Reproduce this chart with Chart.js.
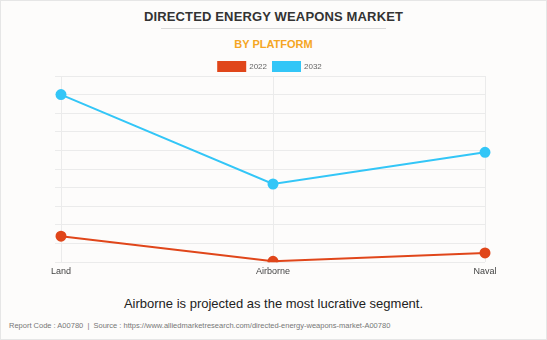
<!DOCTYPE html>
<html>
<head>
<meta charset="utf-8">
<script src="https://cdn.jsdelivr.net/npm/chart.js@4/dist/chart.umd.min.js"></script>
<style>
  html, body { margin: 0; padding: 0; }
  body { width: 547px; height: 340px; background: #fdfcfb; position: relative; overflow: hidden; font-family: "Liberation Sans", Arial, sans-serif; }
  #frame { position: absolute; left: 0; top: 0; width: 545px; height: 338px; border: 1px solid #e6e6e6; }
  #title { position: absolute; left: 0; width: 547px; top: 9px; text-align: center; font-weight: bold; font-size: 13px; color: #333; letter-spacing: 0.15px; }
  #rule { position: absolute; left: 161px; width: 225px; top: 28px; height: 1px; background: #d9d9d9; }
  #sub { position: absolute; left: 0; width: 547px; top: 38px; text-align: center; font-weight: bold; font-size: 11px; color: #f5a623; }
  #cap { position: absolute; left: 0; width: 547px; top: 296px; text-align: center; font-size: 13px; color: #222; }
  #foot { position: absolute; left: 9px; top: 321px; font-size: 7.5px; color: #777; white-space: nowrap; }
  #wrap { position: absolute; left: 0; top: 0; width: 547px; height: 290px; }
</style>
</head>
<body>
<div id="frame"></div>
<div id="title">DIRECTED ENERGY WEAPONS MARKET</div>
<div id="rule"></div>
<div id="sub">BY PLATFORM</div>
<div id="wrap"><canvas id="c" width="547" height="290"></canvas></div>
<div id="cap">Airborne is projected as the most lucrative segment.</div>
<div id="foot">Report Code : A00780 &nbsp;|&nbsp; Source : https://www.alliedmarketresearch.com/directed-energy-weapons-market-A00780</div>
<script>
const categories = ["Land", "Airborne", "Naval"];
const series2022 = [1.4, 0.05, 0.5];
const series2032 = [9.0, 4.2, 5.9];
const seriesNames = ["2022", "2032"];
const seriesColors = ["#e0461a", "#33c6f7"];

const legendGap = {
  id: "legendGap",
  beforeInit(chart) {
    const origFit = chart.legend.fit;
    chart.legend.fit = function () {
      origFit.call(this);
      this.height -= 5;
    };
  }
};

new Chart(document.getElementById("c"), {
  type: "line",
  data: {
    labels: categories,
    datasets: [
      { label: seriesNames[0], data: series2022, borderColor: seriesColors[0], backgroundColor: seriesColors[0], borderWidth: 2, pointRadius: 4.5, pointHoverRadius: 4.5, tension: 0 },
      { label: seriesNames[1], data: series2032, borderColor: seriesColors[1], backgroundColor: seriesColors[1], borderWidth: 2, pointRadius: 4.5, pointHoverRadius: 4.5, tension: 0 }
    ]
  },
  plugins: [legendGap],
  options: {
    responsive: false,
    animation: false,
    devicePixelRatio: 1,
    layout: { padding: { left: 55, right: 62, top: 56, bottom: 9 } },
    plugins: {
      tooltip: { enabled: false },
      legend: {
        display: true,
        position: "top",
        labels: { boxWidth: 27, boxHeight: 9, padding: 6, color: "#666", font: { family: "Liberation Sans, Arial", size: 8 } }
      }
    },
    scales: {
      x: {
        offset: false,
        grid: { color: "#ebebeb", drawTicks: false },
        border: { display: false },
        ticks: { color: "#444", font: { family: "Liberation Sans, Arial", size: 9 }, padding: 4 }
      },
      y: {
        min: 0, max: 10,
        ticks: { display: false, stepSize: 1 },
        grid: { color: "#ebebeb", tickLength: 6 },
        border: { display: false }
      }
    }
  }
});
</script>
</body>
</html>
